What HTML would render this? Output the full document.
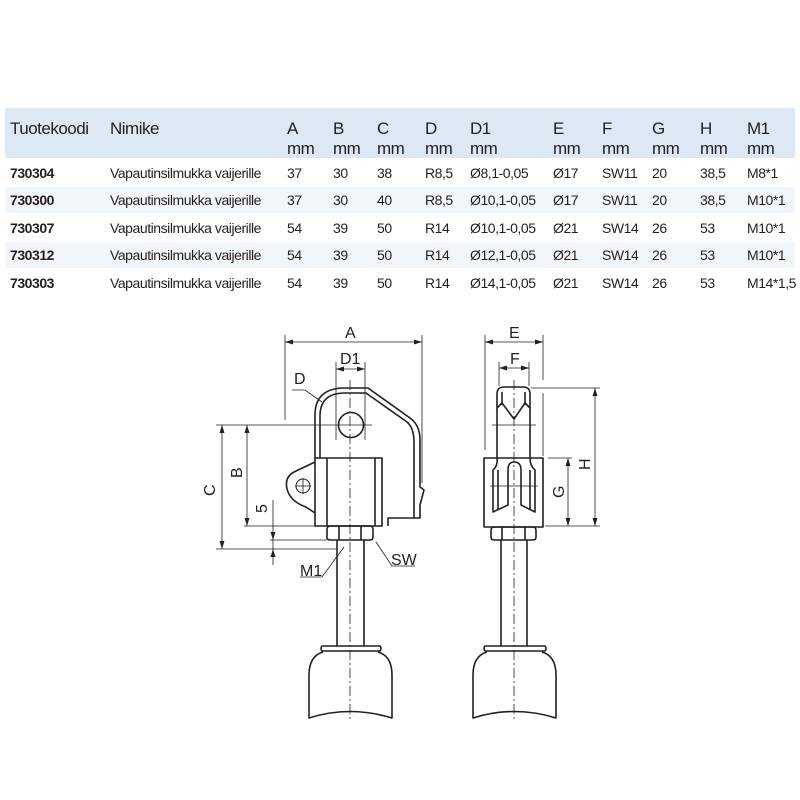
<!DOCTYPE html>
<html><head><meta charset="utf-8"><style>
html,body{margin:0;padding:0;background:#fff;width:800px;height:800px;overflow:hidden}
svg{display:block}
text{font-family:"Liberation Sans",sans-serif}
.t{font-family:"Liberation Sans",sans-serif;font-size:14px;fill:#231f20;letter-spacing:-0.45px}
.h{font-size:17px;letter-spacing:-0.5px}
.b{font-weight:bold}
.d{font-size:16px;fill:#231f20}
</style></head><body>
<svg width="800" height="800" viewBox="0 0 800 800" xmlns="http://www.w3.org/2000/svg">
<rect x="5" y="108" width="790" height="50" fill="#dce9f4"/>
<rect x="5" y="187" width="790" height="26" fill="#f1f6fb"/>
<rect x="5" y="242" width="790" height="26" fill="#f1f6fb"/>
<g class="t h">
<text x="10" y="134">Tuotekoodi</text><text x="110" y="134">Nimike</text>
<text x="287" y="134">A</text><text x="333" y="134">B</text><text x="377" y="134">C</text><text x="425" y="134">D</text><text x="470" y="134">D1</text><text x="553" y="134">E</text><text x="602" y="134">F</text><text x="652" y="134">G</text><text x="700" y="134">H</text><text x="747" y="134">M1</text>
<text x="287" y="154">mm</text><text x="333" y="154">mm</text><text x="377" y="154">mm</text><text x="425" y="154">mm</text><text x="470" y="154">mm</text><text x="553" y="154">mm</text><text x="602" y="154">mm</text><text x="652" y="154">mm</text><text x="700" y="154">mm</text><text x="747" y="154">mm</text>
</g>
<g class="t">
<g transform="translate(0,178)"><text x="10" class="b">730304</text><text x="110">Vapautinsilmukka vaijerille</text><text x="287">37</text><text x="333">30</text><text x="377">38</text><text x="425">R8,5</text><text x="470">Ø8,1-0,05</text><text x="553">Ø17</text><text x="602">SW11</text><text x="652">20</text><text x="700">38,5</text><text x="747">M8*1</text></g>
<g transform="translate(0,205)"><text x="10" class="b">730300</text><text x="110">Vapautinsilmukka vaijerille</text><text x="287">37</text><text x="333">30</text><text x="377">40</text><text x="425">R8,5</text><text x="470">Ø10,1-0,05</text><text x="553">Ø17</text><text x="602">SW11</text><text x="652">20</text><text x="700">38,5</text><text x="747">M10*1</text></g>
<g transform="translate(0,233)"><text x="10" class="b">730307</text><text x="110">Vapautinsilmukka vaijerille</text><text x="287">54</text><text x="333">39</text><text x="377">50</text><text x="425">R14</text><text x="470">Ø10,1-0,05</text><text x="553">Ø21</text><text x="602">SW14</text><text x="652">26</text><text x="700">53</text><text x="747">M10*1</text></g>
<g transform="translate(0,260)"><text x="10" class="b">730312</text><text x="110">Vapautinsilmukka vaijerille</text><text x="287">54</text><text x="333">39</text><text x="377">50</text><text x="425">R14</text><text x="470">Ø12,1-0,05</text><text x="553">Ø21</text><text x="602">SW14</text><text x="652">26</text><text x="700">53</text><text x="747">M10*1</text></g>
<g transform="translate(0,288)"><text x="10" class="b">730303</text><text x="110">Vapautinsilmukka vaijerille</text><text x="287">54</text><text x="333">39</text><text x="377">50</text><text x="425">R14</text><text x="470">Ø14,1-0,05</text><text x="553">Ø21</text><text x="602">SW14</text><text x="652">26</text><text x="700">53</text><text x="747">M14*1,5</text></g>
</g>

<!-- LEFT VIEW -->
<g fill="none" stroke="#231f20" stroke-width="0.8">
<line x1="285" y1="335" x2="285" y2="420"/><line x1="422" y1="335" x2="422" y2="483"/>
<line x1="285" y1="342" x2="422" y2="342"/>
<line x1="336" y1="362" x2="336" y2="440"/><line x1="365" y1="362" x2="365" y2="440"/>
<line x1="336" y1="369" x2="365" y2="369"/>
<line x1="216" y1="425" x2="372" y2="425"/>
<line x1="244" y1="526" x2="315" y2="526"/>
<line x1="270" y1="540" x2="327" y2="540"/>
<line x1="216" y1="549" x2="336" y2="549"/>
<line x1="222" y1="425" x2="222" y2="549"/>
<line x1="247" y1="425" x2="247" y2="526"/>
<line x1="273" y1="500" x2="273" y2="565"/>
<line x1="350" y1="380" x2="350" y2="720" stroke-dasharray="10 3 2 3"/>
<line x1="514" y1="380" x2="514" y2="720" stroke-dasharray="10 3 2 3"/>
<polyline points="292,390 305,390 322,402"/>
<polyline points="376,542 392,566 415,566"/>
<polyline points="344,547 322,577 300,577"/>
</g>
<g fill="#231f20">
<path d="M285,342 l8,-2.5 v5z M422,342 l-8,-2.5 v5z"/>
<path d="M336,369 l8,-2.5 v5z M365,369 l-8,-2.5 v5z"/>
<path d="M222,425 l-2.5,8 h5z M222,549 l-2.5,-8 h5z"/>
<path d="M247,425 l-2.5,8 h5z M247,526 l-2.5,-8 h5z"/>
<path d="M273,540 l-2.5,-8 h5z M273,549 l-2.5,8 h5z"/>
</g>
<g class="d">
<text x="345" y="338">A</text><text x="340" y="364">D1</text><text x="294" y="384">D</text>
<text transform="translate(215,496) rotate(-90)">C</text>
<text transform="translate(242,478) rotate(-90)">B</text>
<text transform="translate(267,513) rotate(-90)">5</text>
<text x="391" y="565">SW</text><text x="300" y="576">M1</text>
</g>
<g fill="none" stroke="#231f20" stroke-width="1.6" stroke-linejoin="round">
<path d="M315,458 V415 Q315,388 345,388 H368 L410,418 Q420,425 420,440 V487 L424,490 L420,505 V518 H388 V526"/>
<path d="M320,458 V416 Q320,393 345,393 H366 L407,422 Q414,428 414,442 V518"/>
<circle cx="351" cy="425" r="12.5"/>
<path d="M315,462 L294,472 Q283,478 288,492 Q292,502 306,507 L315,513"/>
<circle cx="303" cy="486" r="7" stroke-width="1"/>
<line x1="295" y1="486" x2="311" y2="486" stroke-width="0.8"/><line x1="303" y1="478" x2="303" y2="494" stroke-width="0.8"/>
<rect x="315" y="458" width="67" height="68"/>
<line x1="327" y1="458" x2="327" y2="526"/><line x1="375" y1="458" x2="375" y2="526"/>
<path d="M330,526 H370 Q373,526 373,530 V537 Q373,540 370,540 H330 Q327,540 327,537 V530 Q327,526 330,526Z"/>
<line x1="339" y1="526" x2="339" y2="540"/><line x1="361" y1="526" x2="361" y2="540"/>
<line x1="337" y1="540" x2="337" y2="646"/><line x1="364" y1="540" x2="364" y2="646"/>
<path d="M322,646 H380 Q382,648 380,651 H322 Q320,648 322,646Z"/>
<path d="M323,652 Q309,656 309,675 V718 Q350,705 392,718 V675 Q392,656 378,652"/>

<!-- RIGHT VIEW -->
<path d="M497,458 V394 Q497,387 504,387 H523 Q530,387 530,394 V458"/>
<line x1="502" y1="392" x2="502" y2="405"/><line x1="525" y1="392" x2="525" y2="405"/>
<polyline points="497,408 502,403 514,419 525,403 530,408"/>
<rect x="484" y="458" width="59" height="69"/>
<path d="M497,458 Q498,466 493,470 V512 L508,505 V470 Q508,462 514,462 Q521,462 521,470 V505 L535,512 V470 Q530,466 530,458"/>
<line x1="498" y1="470" x2="498" y2="510"/><line x1="530" y1="470" x2="530" y2="510"/>
<path d="M494,527 H533 Q536,527 536,531 V537 Q536,540 533,540 H494 Q491,540 491,537 V531 Q491,527 494,527Z"/>
<line x1="502" y1="527" x2="502" y2="540"/><line x1="525" y1="527" x2="525" y2="540"/>
<line x1="501" y1="540" x2="501" y2="646"/><line x1="527" y1="540" x2="527" y2="646"/>
<path d="M485,646 H545 Q547,648 545,651 H485 Q483,648 485,646Z"/>
<path d="M487,652 Q473,656 473,675 V718 Q514,705 556,718 V675 Q556,656 542,652"/>
</g>
<g fill="none" stroke="#231f20" stroke-width="0.8">
<line x1="492" y1="425" x2="536" y2="425"/>
<line x1="490" y1="486" x2="538" y2="486"/>
<line x1="485" y1="335" x2="485" y2="450"/><line x1="543" y1="335" x2="543" y2="380"/><line x1="543" y1="393" x2="543" y2="456"/>
<line x1="485" y1="342" x2="543" y2="342"/>
<line x1="499" y1="362" x2="499" y2="386"/><line x1="529" y1="362" x2="529" y2="386"/>
<line x1="499" y1="368" x2="529" y2="368"/>
<line x1="531" y1="388" x2="600" y2="388"/>
<line x1="548" y1="458" x2="572" y2="458"/>
<line x1="545" y1="526" x2="600" y2="526"/>
<line x1="595" y1="388" x2="595" y2="526"/>
<line x1="568" y1="458" x2="568" y2="526"/>
</g>
<g fill="#231f20">
<path d="M485,342 l8,-2.5 v5z M543,342 l-8,-2.5 v5z"/>
<path d="M499,368 l8,-2.5 v5z M529,368 l-8,-2.5 v5z"/>
<path d="M595,388 l-2.5,8 h5z M595,526 l-2.5,-8 h5z"/>
<path d="M568,458 l-2.5,8 h5z M568,526 l-2.5,-8 h5z"/>
</g>
<g class="d">
<text x="509" y="338">E</text><text x="510" y="364">F</text>
<text transform="translate(590,470) rotate(-90)">H</text>
<text transform="translate(564,498) rotate(-90)">G</text>
</g>
</svg>
</body></html>
